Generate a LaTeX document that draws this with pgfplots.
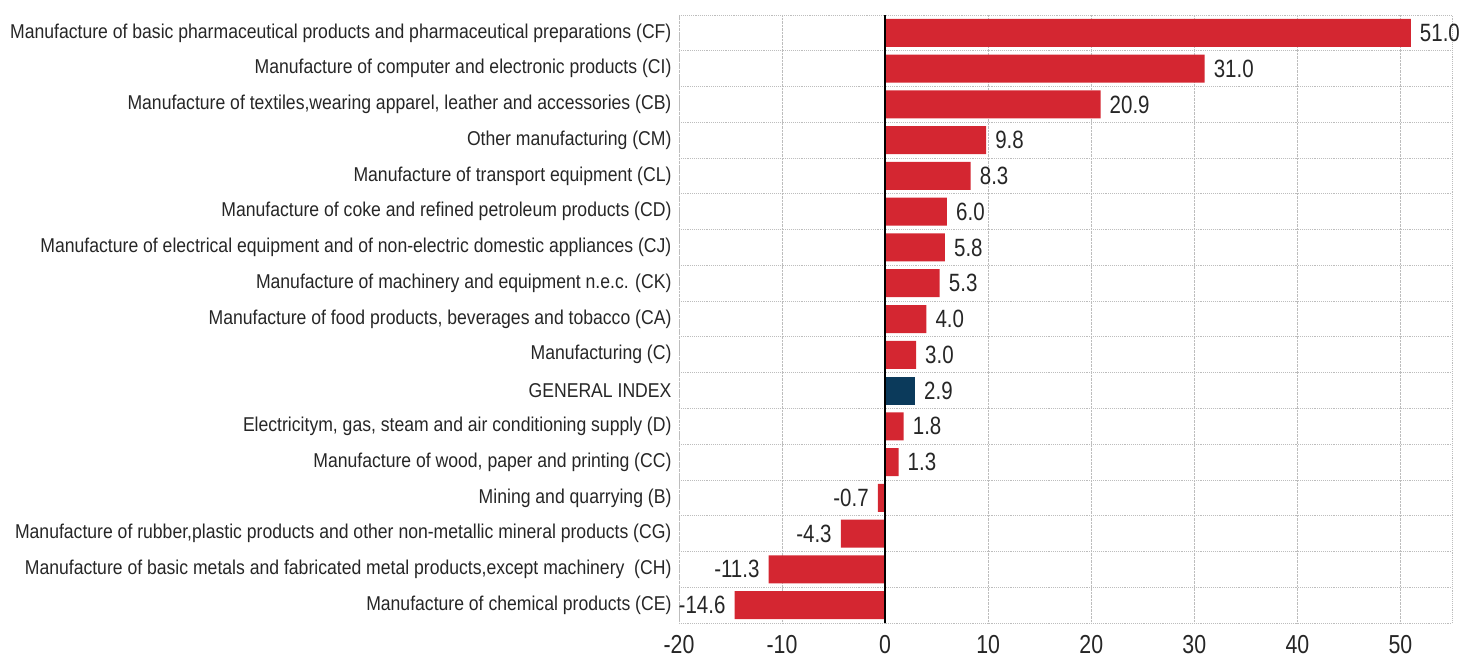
\documentclass[border=0pt]{standalone}
\usepackage{pgfplots}
\pgfplotsset{compat=1.18}
\usepackage{fontspec}
\setmainfont{Liberation Sans}[FakeStretch=0.82]
\newfontfamily\labelfont{Liberation Sans}[FakeStretch=0.88]
\definecolor{barred}{HTML}{D42631}
\definecolor{navy}{HTML}{0B3A5B}
\definecolor{gridgray}{HTML}{BDBDBD}
\definecolor{txt}{HTML}{262626}
\begin{document}
\begin{tikzpicture}
\useasboundingbox (-679pt,-39pt) rectangle (783pt,623pt);
\begin{axis}[
  at={(0,0)}, anchor=south west,
  scale only axis, width=773pt, height=608pt,
  xmin=-20, xmax=55, ymin=-0.5, ymax=16.5, y dir=reverse,
  xtick={-20,-10,...,50},
  ytick={0,...,16},
  yticklabels={
    Manufacture of basic pharmaceutical products and pharmaceutical preparations (CF),
    Manufacture of computer and electronic products (CI),
    {Manufacture of textiles,wearing apparel, leather and accessories (CB)},
    Other manufacturing (CM),
    Manufacture of transport equipment (CL),
    Manufacture of coke and refined petroleum products (CD),
    Manufacture of electrical equipment and of non-electric domestic appliances (CJ),
    Manufacture of machinery and equipment n.e.c. (CK),
    {Manufacture of food products, beverages and tobacco (CA)},
    Manufacturing (C),
    GENERAL INDEX,
    {Electricitym, gas, steam and air conditioning supply (D)},
    {Manufacture of wood, paper and printing (CC)},
    Mining and quarrying (B),
    {Manufacture of rubber,plastic products and other non-metallic mineral products (CG)},
    {Manufacture of basic metals and fabricated metal products,except machinery\ \ (CH)},
    Manufacture of chemical products (CE)
  },
  minor ytick={0.5,1.5,...,15.5},
  xmajorgrids, yminorgrids,
  grid style={gridgray, densely dotted, line width=0.9pt},
  minor grid style={gridgray, densely dotted, line width=0.9pt},
  axis line style={gridgray, densely dotted, line width=0.9pt},
  major tick length=0pt, minor tick length=0pt,
  tick style={draw=none},
  /pgf/number format/assume math mode=true,
  xticklabel style={font=\fontsize{26}{26}\selectfont, text=txt, yshift=-9pt},
  yticklabel style={font=\labelfont\fontsize{20}{24}\selectfont, text=txt, xshift=-4pt},
  xbar, bar width=28pt, bar shift=0pt,
  nodes near coords,
  nodes near coords style={font=\fontsize{25}{25}\selectfont, text=txt, inner sep=9pt,
    /pgf/number format/.cd, fixed, fixed zerofill, precision=1},
  point meta=x,
]
\addplot[fill=barred, draw=none] coordinates {
  (51.0,0) (31.0,1) (20.9,2) (9.8,3) (8.3,4) (6.0,5) (5.8,6) (5.3,7)
  (4.0,8) (3.0,9) (1.8,11) (1.3,12) (-0.7,13) (-4.3,14) (-11.3,15) (-14.6,16)
};
\addplot[fill=navy, draw=none] coordinates {(2.9,10)};
\draw[black, line width=2.6pt] (axis cs:0,-0.5) -- (axis cs:0,16.5);
\end{axis}
\end{tikzpicture}
\end{document}
